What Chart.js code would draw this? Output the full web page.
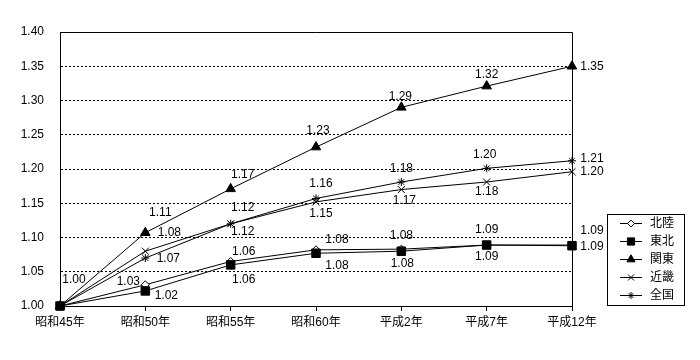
<!DOCTYPE html>
<html><head><meta charset="utf-8">
<script src="https://cdn.jsdelivr.net/npm/chart.js@4.4.0/dist/chart.umd.min.js"></script>
<style>html,body{margin:0;padding:0;background:#fff;}</style>
</head><body>
<canvas id="c" width="700" height="360"></canvas>
<script>
// ---- data ----
const categories = ['昭和45年','昭和50年','昭和55年','昭和60年','平成2年','平成7年','平成12年'];
const seriesNames = ['北陸','東北','関東','近畿','全国'];
const hokuriku = [1.00, 1.031, 1.065, 1.082, 1.083, 1.089, 1.089];
const tohoku   = [1.00, 1.022, 1.060, 1.077, 1.080, 1.089, 1.088];
const kanto    = [1.00, 1.107, 1.171, 1.232, 1.290, 1.321, 1.350];
const kinki    = [1.00, 1.080, 1.120, 1.152, 1.170, 1.181, 1.196];
const zenkoku  = [1.00, 1.070, 1.120, 1.157, 1.181, 1.201, 1.212];
const yMin = 1.00, yMax = 1.40, yStep = 0.05;

const FONT = '"Liberation Sans", "Noto Sans CJK JP", sans-serif';
Chart.defaults.font.family = FONT;
Chart.defaults.font.size = 12;
Chart.defaults.color = '#000';

// marker styles per series
const styles = [
  {pointStyle:'rectRot', radius:4, bg:'#fff', order:1},
  {pointStyle:'rect', radius:6, bg:'#000', order:0},
  {pointStyle:'triangle', radius:5.5, bg:'#000', order:1},
  {pointStyle:'crossRot', radius:5, bg:'#000', order:1},
  {pointStyle:'star', radius:4, bg:'#000', order:1}
];

// label offsets (dx, dy) from each point; null = no label
const labelOffsets = [
  [null, [-17,-3], [13,-10], [21,-10], [0,-13], [0,-15], [20,-14]],
  [null, [21,5], [13,15], [21,12], [1,12], [0,12], [20,1]],
  [[14,-26], [15,-20], [12,-14], [2,-16], [-1,-11], [0,-11], [20,0]],
  [null, [24,-19], [12,8], [5,12], [3,11], [0,10], [20,0]],
  [null, [23,1], [12,-16], [5,-15], [0,-13], [-2,-14], [20,-2]]
];

const seriesData = [hokuriku, tohoku, kanto, kinki, zenkoku];

const datasets = seriesNames.map((name, i) => ({
  label: name,
  data: seriesData[i],
  order: styles[i].order,
  borderColor: '#000',
  borderWidth: 1,
  tension: 0,
  pointStyle: styles[i].pointStyle,
  pointRadius: styles[i].radius,
  pointHoverRadius: styles[i].radius,
  pointBackgroundColor: styles[i].bg,
  pointBorderColor: '#000',
  pointBorderWidth: 1,
  clip: false
}));

function drawMarker(ctx, st, x, y, scale) {
  ctx.save();
  ctx.fillStyle = st.bg;
  ctx.strokeStyle = '#000';
  ctx.lineWidth = 1;
  Chart.helpers.drawPoint(ctx, {pointStyle: st.pointStyle, radius: st.radius*scale, rotation: 0, borderWidth: 1}, x, y);
  ctx.restore();
}

const labelPlugin = {
  id: 'ptLabels',
  afterDatasetsDraw(chart) {
    const ctx = chart.ctx;
    ctx.save();
    ctx.font = '12px ' + FONT;
    ctx.fillStyle = '#000';
    ctx.textAlign = 'center';
    ctx.textBaseline = 'middle';
    chart.data.datasets.forEach((ds, di) => {
      const meta = chart.getDatasetMeta(di);
      meta.data.forEach((pt, i) => {
        const o = labelOffsets[di][i];
        if (!o) return;
        ctx.fillText(ds.data[i].toFixed(2), pt.x + o[0], pt.y + o[1]);
      });
    });
    ctx.restore();
  }
};

const framePlugin = {
  id: 'frame',
  afterDraw(chart) {
    const {ctx, chartArea: a} = chart;
    ctx.save();
    ctx.strokeStyle = '#000';
    ctx.lineWidth = 1;
    ctx.beginPath();
    const t = Math.round(a.top) + 0.5, r = Math.round(a.right) + 0.5;
    ctx.moveTo(Math.round(a.left), t);
    ctx.lineTo(r, t);
    ctx.lineTo(r, Math.round(a.bottom));
    ctx.stroke();
    ctx.restore();
  }
};

const legendPlugin = {
  id: 'boxLegend',
  afterDraw(chart) {
    const ctx = chart.ctx;
    const bx = 607.5, by = 214.5, bw = 77, bh = 91;
    ctx.save();
    ctx.fillStyle = '#fff';
    ctx.fillRect(bx, by, bw, bh);
    ctx.strokeStyle = '#000';
    ctx.lineWidth = 1;
    ctx.strokeRect(bx, by, bw, bh);
    ctx.font = '12px ' + FONT;
    ctx.textAlign = 'left';
    ctx.textBaseline = 'middle';
    chart.data.datasets.forEach((ds, i) => {
      const y = 223 + i * 18;
      ctx.beginPath();
      ctx.moveTo(620, y + 0.5);
      ctx.lineTo(642, y + 0.5);
      ctx.stroke();
      drawMarker(ctx, styles[i], 631, y + 0.5, 0.85);
      ctx.fillStyle = '#000';
      ctx.fillText(ds.label, 650, y + 1);
    });
    ctx.restore();
  }
};

new Chart(document.getElementById('c'), {
  type: 'line',
  data: { labels: categories, datasets },
  options: {
    responsive: false,
    animation: false,
    devicePixelRatio: 1,
    layout: { padding: { left: 0, right: 128, top: 32, bottom: 0 } },
    plugins: { legend: { display: false }, tooltip: { enabled: false } },
    scales: {
      x: {
        type: 'category',
        offset: false,
        grid: { drawOnChartArea: false, drawTicks: true, tickLength: 5, color: '#000' },
        border: { color: '#000', width: 1 },
        ticks: { color: '#000', padding: 4, maxRotation: 0, autoSkip: false, font: { size: 12 } },
        afterFit(s) { s.height = 54; }
      },
      y: {
        min: yMin, max: yMax,
        ticks: { stepSize: yStep, padding: 16, color: '#000', callback: v => Number(v).toFixed(2), font: { size: 12 } },
        grid: { color: '#000', drawTicks: false, lineWidth: 1 },
        border: { color: '#000', width: 1, dash: [2, 2] },
        afterFit(s) { s.width = 60; }
      }
    }
  },
  plugins: [labelPlugin, framePlugin, legendPlugin]
});
</script>
</body></html>
